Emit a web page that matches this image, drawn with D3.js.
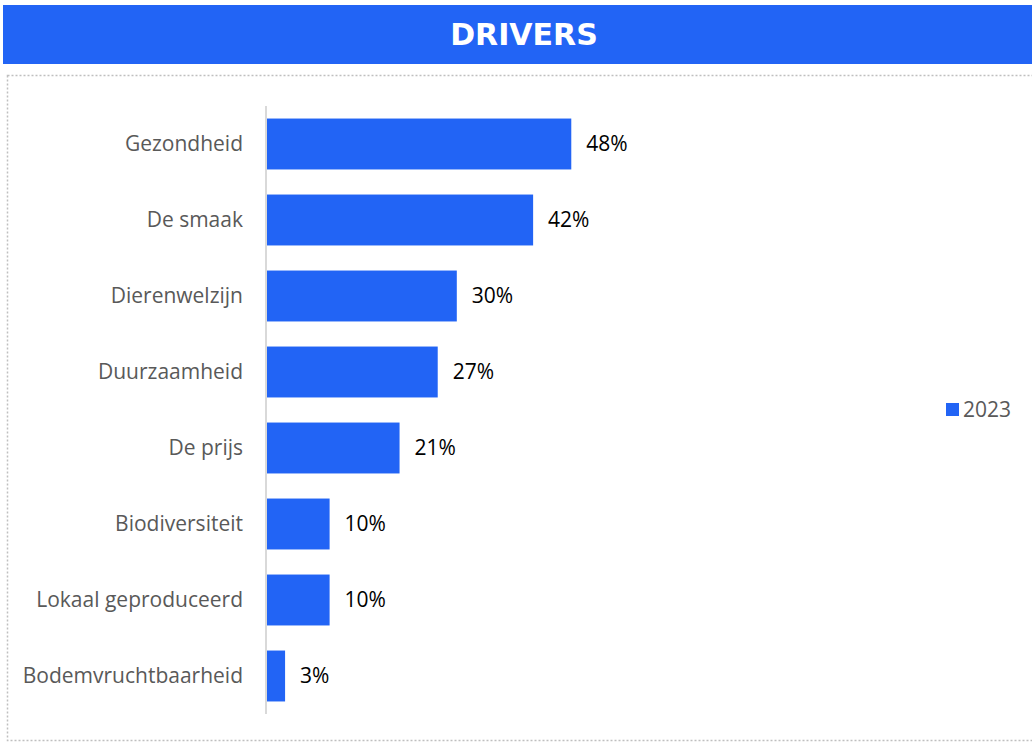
<!DOCTYPE html>
<html>
<head>
<meta charset="utf-8">
<script src="https://cdn.jsdelivr.net/npm/d3@7"></script>
<style>
  html, body { margin: 0; padding: 0; background: #ffffff; }
  svg { display: block; }
</style>
</head>
<body>
<svg id="chart" width="1032" height="743"></svg>
<script>
// Drivers survey, share of respondents (%), year 2023
const categories = [
  "Gezondheid",
  "De smaak",
  "Dierenwelzijn",
  "Duurzaamheid",
  "De prijs",
  "Biodiversiteit",
  "Lokaal geproduceerd",
  "Bodemvruchtbaarheid"
];
const values2023 = [48, 42, 30, 27, 21, 10, 10, 3];
const seriesName = "2023";
const title = "DRIVERS";

const blue = "#2264F5";
const labelFont = "'Open Sans', 'Noto Sans', sans-serif";

const svg = d3.select("#chart");

// Title banner
svg.append("rect")
  .attr("x", 3).attr("y", 5)
  .attr("width", 1029).attr("height", 59)
  .attr("fill", blue);
svg.append("text")
  .attr("x", 524).attr("y", 45)
  .attr("text-anchor", "middle")
  .attr("fill", "#ffffff")
  .attr("font-family", "'DejaVu Sans', sans-serif")
  .attr("font-weight", "bold")
  .attr("font-size", 30)
  .text(title);

// Dotted frame around the plot area
svg.append("rect")
  .attr("x", 7.5).attr("y", 75.5)
  .attr("width", 1030).attr("height", 665)
  .attr("fill", "none")
  .attr("stroke", "#bfbfbf")
  .attr("stroke-width", 1.5)
  .attr("stroke-dasharray", "2,2");

// Scales
const x = d3.scaleLinear().domain([0, 50]).range([266, 584]);
const y = d3.scaleBand()
  .domain(categories)
  .range([106, 714])
  .paddingInner(0.33)
  .paddingOuter(0.165);

// Bars
svg.append("g").selectAll("rect")
  .data(categories)
  .join("rect")
  .attr("x", x(0))
  .attr("y", d => y(d))
  .attr("width", (d, i) => x(values2023[i]) - x(0))
  .attr("height", y.bandwidth())
  .attr("fill", blue);

// Category axis
const yAxis = d3.axisLeft(y).tickSize(0).tickPadding(23);
const gy = svg.append("g")
  .attr("transform", `translate(${x(0)},0)`)
  .call(yAxis);
gy.select(".domain")
  .attr("stroke", "#d9d9d9")
  .attr("stroke-width", 2)
  .attr("d", "M0,106V714");
gy.selectAll(".tick text")
  .attr("fill", "#595959")
  .attr("font-family", labelFont)
  .attr("font-size", 21);

// Value labels
svg.append("g").selectAll("text")
  .data(categories)
  .join("text")
  .attr("x", (d, i) => x(values2023[i]) + 15)
  .attr("y", d => y(d) + y.bandwidth() / 2)
  .attr("dy", "0.35em")
  .attr("fill", "#000000")
  .attr("font-family", labelFont)
  .attr("font-size", 21)
  .text((d, i) => values2023[i] + "%");

// Legend
const legend = svg.append("g").attr("transform", "translate(946,403)");
legend.append("rect")
  .attr("width", 13).attr("height", 13)
  .attr("fill", blue);
legend.append("text")
  .attr("x", 17).attr("y", 6.5)
  .attr("dy", "0.35em")
  .attr("fill", "#595959")
  .attr("font-family", labelFont)
  .attr("font-size", 21)
  .text(seriesName);
</script>
</body>
</html>
